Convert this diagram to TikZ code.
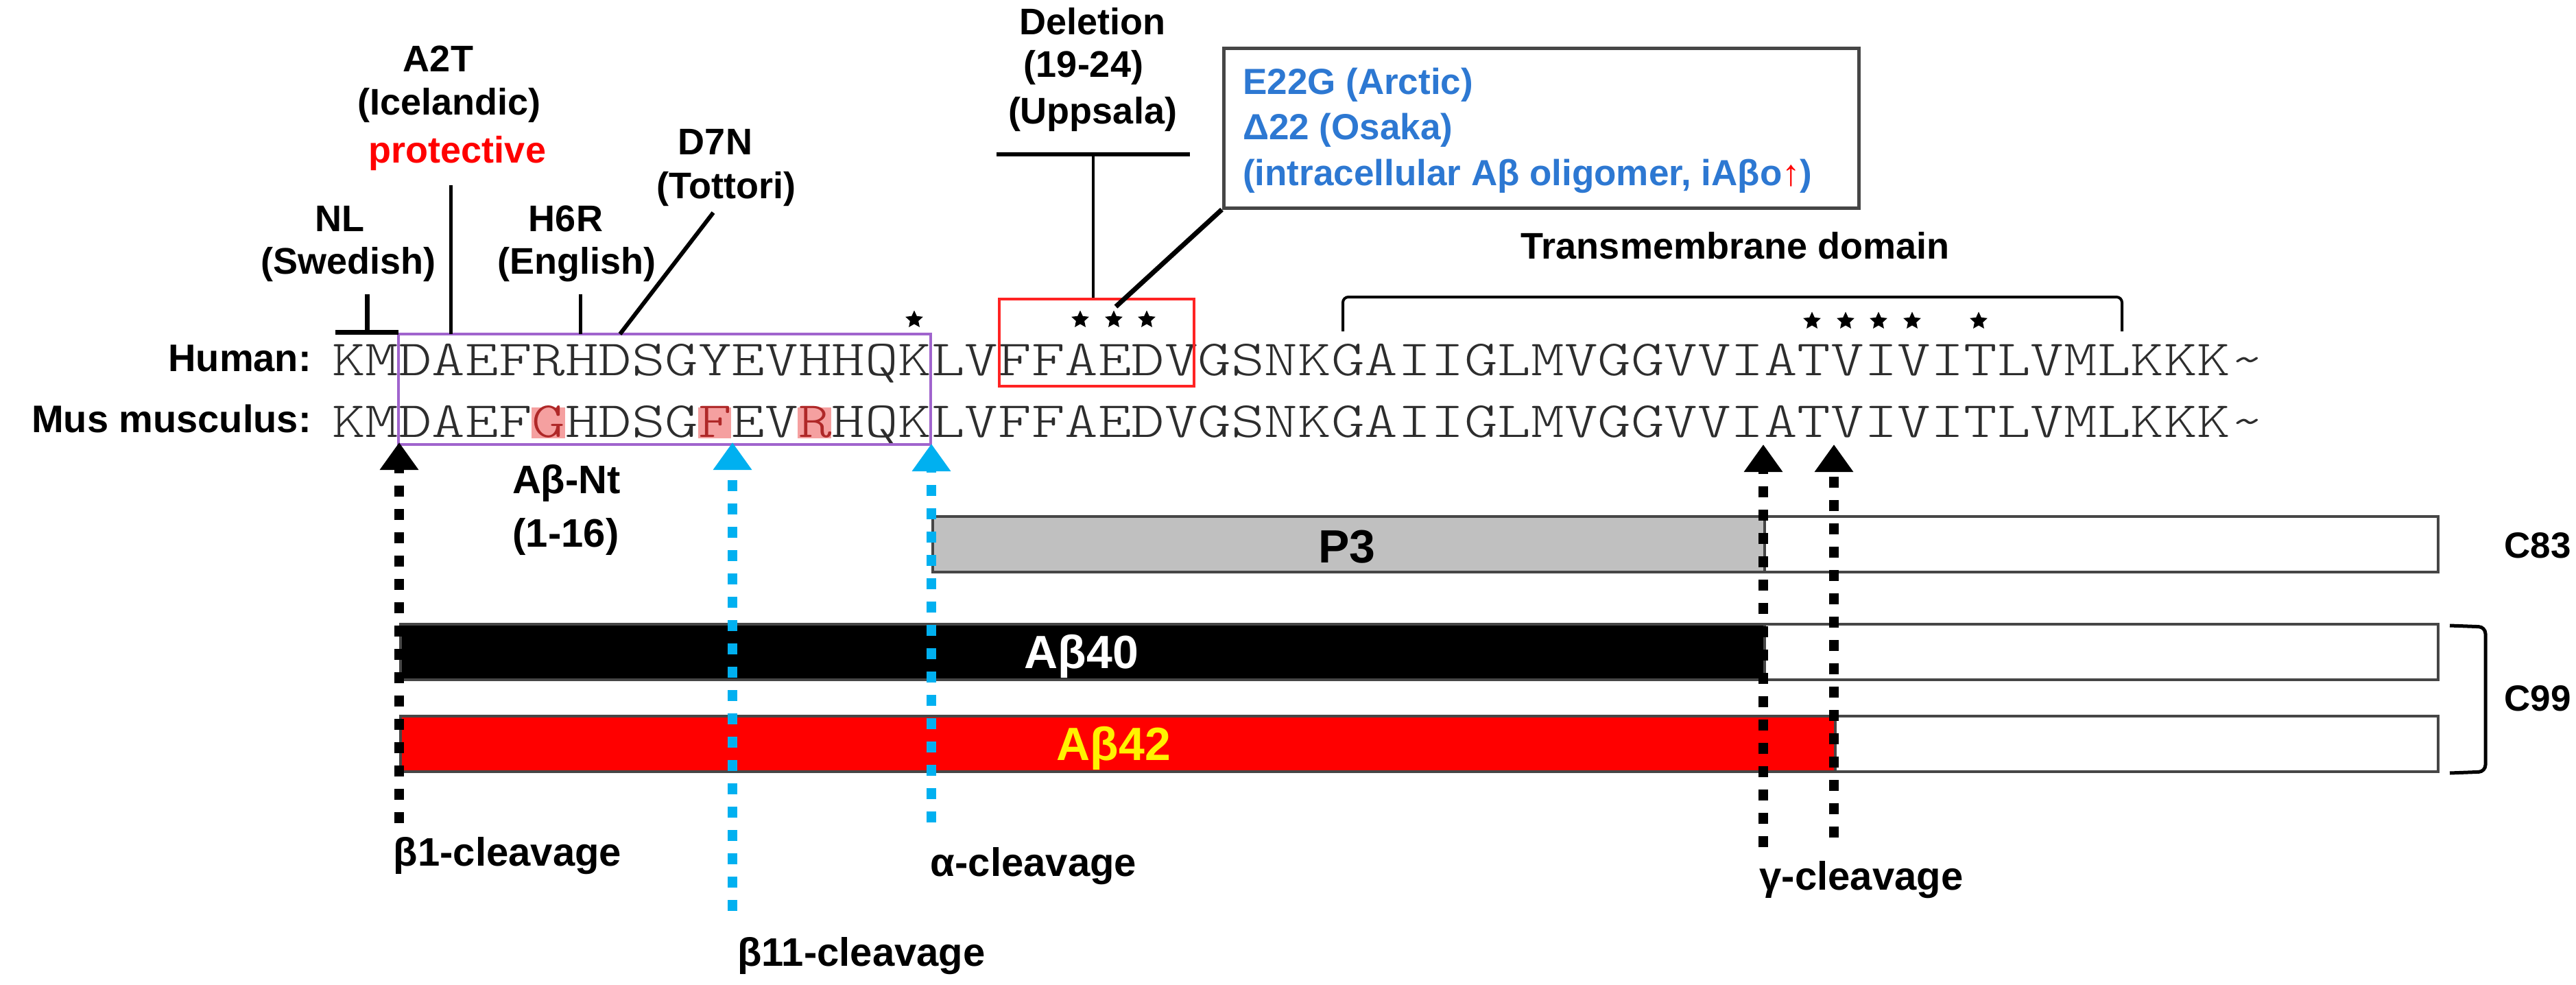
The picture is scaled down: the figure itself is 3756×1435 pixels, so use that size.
\documentclass[tikz,border=0pt]{standalone}
\usepackage{fontspec}
\setmainfont{Liberation Sans}
\newfontfamily\seqfont[FakeStretch=1.25]{lmmonolt10-regular.otf}
\usetikzlibrary{arrows.meta,shapes.geometric}
\definecolor{seqgray}{RGB}{45,45,45}
\definecolor{hlfill}{RGB}{245,160,160}
\definecolor{hltext}{RGB}{175,40,40}
\definecolor{boxblue}{RGB}{45,120,210}
\definecolor{ntpurple}{RGB}{160,100,205}
\definecolor{delred}{RGB}{255,35,35}
\definecolor{cyanarrow}{RGB}{0,176,240}
\definecolor{barline}{RGB}{70,70,70}
\definecolor{pgrey}{RGB}{192,192,192}
\begin{document}
\begin{tikzpicture}[x=1pt,y=-1pt,
  lab/.style={font=\fontsize{54}{60}\selectfont\bfseries, inner sep=0pt, anchor=base},
  cleavlab/.style={font=\fontsize{58}{64}\selectfont\bfseries, inner sep=0pt, anchor=base},
  rowlab/.style={font=\fontsize{56}{64}\selectfont\bfseries, inner sep=0pt, anchor=base east},
  bluelab/.style={font=\fontsize{53}{60}\selectfont\bfseries, inner sep=0pt, anchor=base west, text=boxblue},
  barlab/.style={font=\fontsize{68}{74}\selectfont\bfseries, inner sep=0pt, anchor=base},
  seqrow/.style={font=\seqfont\fontsize{74}{90}\selectfont, inner sep=0pt, anchor=base west, text=seqgray},
  conn/.style={line width=5pt, black},
  barbox/.style={draw=barline, line width=4pt, minimum height=81pt, inner sep=0pt, anchor=west},
  ast/.style={star, star points=5, star point ratio=2.1, fill=black, inner sep=0pt, minimum size=27pt},
  cutline/.style={line width=14pt, dash pattern=on 16pt off 18pt, -{Triangle[length=40pt,width=54pt]}},
]
\useasboundingbox (0,0) rectangle (3756,1435);
\fill[white] (0,0) rectangle (3756,1435);

% ---------- mutation labels ----------
\node[lab] (a2t) at (639,104) {A2T};
\node[lab] (icel) at (655,167) {(Icelandic)};
\node[lab, text=red] (prot) at (667,237) {protective};
\node[lab] (nl) at (495,337) {NL};
\node[lab] (swed) at (508,399) {(Swedish)};
\node[lab] (h6r) at (825,337) {H6R};
\node[lab] (engl) at (841,399) {(English)};
\node[lab] (d7n) at (1043,225) {D7N};
\node[lab] (tott) at (1059,289) {(Tottori)};
\node[lab] (del) at (1593,50) {Deletion};
\node[lab] (d1924) at (1580,112) {(19-24)};
\node[lab] (upps) at (1593,180) {(Uppsala)};

% blue box
\node[draw=barline, line width=5pt, minimum width=926pt, minimum height=233pt, inner sep=0pt] (bluebox) at (2247,186.5) {};
\node[bluelab] (arctic) at (1812,137) {E22G (Arctic)};
\node[bluelab] (osaka) at (1812,203) {Δ22 (Osaka)};
\node[bluelab] (iabo) at (1812,270) {(intracellular Aβ oligomer, iAβo\textcolor{red}{↑})};

\node[lab] (tmd) at (2530,377) {Transmembrane domain};

% ---------- sequence rows ----------
\node[rowlab] (human) at (454,541) {Human:};
\node[rowlab] (mus) at (454,630) {Mus musculus:};

\fill[hlfill] (775,594) rectangle (823.5,639);
\fill[hlfill] (1017.5,594) rectangle (1066,639);
\fill[hlfill] (1163,594) rectangle (1211.5,639);

\node[seqrow] (hseq) at (484,547) {KMDAEFRHDSGYEVHHQKLVFFAEDVGSNKGAIIGLMVGGVVIATVIVITLVMLKKK\textasciitilde};
\node[seqrow] (mseq) at (484,637) {KMDAEF\textcolor{hltext}{G}HDSG\textcolor{hltext}{F}EV\textcolor{hltext}{R}HQKLVFFAEDVGSNKGAIIGLMVGGVVIATVIVITLVMLKKK\textasciitilde};

% boxes on the sequence
\node[draw=ntpurple, line width=4pt, minimum width=776pt, minimum height=161pt, inner sep=0pt] (ntbox) at (969,567.5) {};
\node[draw=delred, line width=4pt, minimum width=284pt, minimum height=127pt, inner sep=0pt] (redbox) at (1599,499.5) {};

% stars
\node[ast] (k16) at (1333,466) {};
\node[ast] (sA) at (1575,466) {};
\node[ast] (sE) at (1624,466) {};
\node[ast] (sD) at (1672,466) {};
\node[ast] (t43) at (2642,468) {};
\node[ast] (v44) at (2691,468) {};
\node[ast] (i45) at (2739,468) {};
\node[ast] (v46) at (2788,468) {};
\node[ast] (t48) at (2885,468) {};

% ---------- connectors of the labels ----------
\coordinate (nlTop) at (535,429);
\coordinate (nlBar) at (535,484);
\coordinate (nlL) at (489,484);
\coordinate (nlR) at (581,484);
\draw[line width=7pt] (nlTop) -- (nlBar);
\draw[line width=7pt] (nlL) -- (nlR);

\coordinate (a2tTop) at (657,270);
\coordinate (a2tBot) at (657,487);
\draw[conn] (a2tTop) -- (a2tBot);

\coordinate (h6rTop) at (846,429);
\coordinate (h6rBot) at (846,487);
\draw[conn] (h6rTop) -- (h6rBot);

\coordinate (d7nTop) at (1040,310);
\coordinate (d7nBot) at (904,487);
\draw[line width=6pt] (d7nTop) -- (d7nBot);

\coordinate (delL) at (1453,225);
\coordinate (delR) at (1735,225);
\coordinate (delM) at (1594,225);
\draw[line width=6pt] (delL) -- (delR);
\draw[line width=4pt] (delM) -- (delM |- redbox.north);

\coordinate (eStar) at (1627,447);
\draw[line width=7pt] (bluebox.south west) -- (eStar);

% transmembrane bracket
\coordinate (tmL) at (1958,483);
\coordinate (tmR) at (3094,483);
\draw[line width=4pt, rounded corners=8pt] (tmL) -- (1958,433) -- (3094,433) -- (tmR);

% ---------- bars ----------
\node[barbox, fill=white, minimum width=2195pt] (c83) at (1358,793) {};
\node[barbox, fill=pgrey, minimum width=1213pt] (p3) at (1358,793) {};
\node[barlab] (p3t) at (1964,820) {P3};

\node[barbox, fill=white, minimum width=2971pt] (c99a) at (582,950.5) {};
\node[barbox, fill=black, minimum width=1989pt] (ab40) at (582,950.5) {};
\node[barlab, text=white] (ab40t) at (1577,974) {Aβ40};

\node[barbox, fill=white, minimum width=2971pt] (c99b) at (582,1084.5) {};
\node[barbox, fill=red, minimum width=2092pt] (ab42) at (582,1084.5) {};
\node[barlab, text=yellow] (ab42t) at (1624,1108) {Aβ42};

\node[lab, font=\fontsize{53}{60}\selectfont\bfseries] (c83t) at (3700,813) {C83};
\node[lab, font=\fontsize{53}{60}\selectfont\bfseries] (c99t) at (3700,1036) {C99};
\coordinate (c99top) at (3572,912);
\coordinate (c99bot) at (3572,1127);
\draw[line width=5pt, rounded corners=10pt] (c99top) -- (3624,914) -- (3624,1125) -- (c99bot);

% ---------- cleavage arrows ----------
\coordinate (b1top) at (582,645);   \coordinate (b1bot) at (582,1200);
\coordinate (b11top) at (1068,645); \coordinate (b11bot) at (1068,1328);
\coordinate (atop) at (1358,647);   \coordinate (abot) at (1358,1199);
\coordinate (g1top) at (2571,648);  \coordinate (g1bot) at (2571,1235);
\coordinate (g2top) at (2674,648);  \coordinate (g2bot) at (2674,1221);
\draw[cutline, black] (b1bot) -- (b1top);
\draw[cutline, cyanarrow] (b11bot) -- (b11top);
\draw[cutline, cyanarrow] (abot) -- (atop);
\draw[cutline, black] (g1bot) -- (g1top);
\draw[cutline, black] (g2bot) -- (g2top);

% ---------- bottom labels ----------
\node[cleavlab] (ntl1) at (826,719) {Aβ-Nt};
\node[cleavlab] (ntl2) at (825,797) {(1-16)};
\node[cleavlab] (b1l) at (740,1262) {β1-cleavage};
\node[cleavlab] (al) at (1507,1277) {α-cleavage};
\node[cleavlab] (b11l) at (1256,1408) {β11-cleavage};
\node[cleavlab] (gl) at (2714,1297) {γ-cleavage};
\end{tikzpicture}
\end{document}
